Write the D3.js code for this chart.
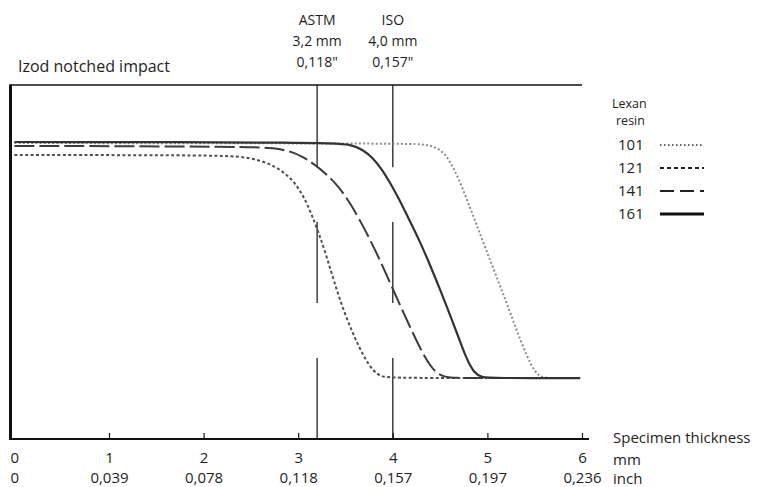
<!DOCTYPE html>
<html><head><meta charset="utf-8">
<script src="https://cdn.jsdelivr.net/npm/d3@7"></script>
<style>
body{margin:0;background:#fff;}
text{font-family:"Open Sans","Noto Sans",sans-serif;fill:#1e1e1e;}
</style></head>
<body><svg id="c" width="770" height="487"></svg>
<script>
// ---- data ----
const mmTicks = [0, 1, 2, 3, 4, 5, 6];
const inchTicks = ["0", "0,039", "0,078", "0,118", "0,157", "0,197", "0,236"];
const refPos = [3.2, 4.0];
const refName = ["ASTM", "ISO"];
const refMM = ["3,2 mm", "4,0 mm"];
const refInch = ["0,118\"", "0,157\""];
const refGaps = [[61.3, 76.8], [22.9, 38.4]];
const seriesNames = ["101", "121", "141", "161"];
const s101 = [[0,83.6],[4.20,83.5],[4.32,83.2],[4.42,82.8],[4.53,81.2],[4.60,78.6],[4.69,74.0],[4.79,67.2],[4.89,60.2],[4.99,53.2],[5.10,45.6],[5.21,38.0],[5.31,30.6],[5.42,23.2],[5.50,19.0],[5.57,17.4],[5.66,17.2],[5.98,17.2]];
const s121 = [[0,80.2],[2.20,80.2],[2.45,79.6],[2.67,78.2],[2.84,75.6],[2.96,72.6],[3.06,68.4],[3.14,63.6],[3.22,58.0],[3.30,51.6],[3.38,44.4],[3.47,37.0],[3.58,29.6],[3.69,23.4],[3.79,19.2],[3.88,17.6],[3.98,17.2],[5.98,17.2]];
const s141 = [[0,82.8],[2.45,82.6],[2.75,82.2],[2.93,81.2],[3.06,79.6],[3.18,77.4],[3.31,74.6],[3.43,71.2],[3.55,66.6],[3.66,61.4],[3.77,55.8],[3.88,49.6],[3.99,43.0],[4.10,36.4],[4.20,30.6],[4.30,25.0],[4.40,20.4],[4.49,18.0],[4.60,17.3],[4.75,17.2],[5.98,17.2]];
const s161 = [[0,83.9],[3.35,83.8],[3.55,83.2],[3.68,81.8],[3.79,79.4],[3.89,76.0],[3.97,72.4],[4.05,68.6],[4.15,63.2],[4.29,55.6],[4.39,49.4],[4.50,42.2],[4.60,35.4],[4.70,28.4],[4.78,22.6],[4.86,18.6],[4.94,17.4],[5.05,17.2],[5.98,17.2]];
const seriesData = [s101, s121, s141, s161];

// ---- styles ----
const styles = {
  "101": {stroke:"#8c8c8c", w:2, dash:"2,2.2", lstroke:"#333", lw:1.5, ldash:"1.5,2.5"},
  "121": {stroke:"#505050", w:2, dash:"3,2.4", lstroke:"#222", lw:2, ldash:"4,3"},
  "141": {stroke:"#3c3c3c", w:2, dash:"20,5", lstroke:"#222", lw:2, ldash:"14,6"},
  "161": {stroke:"#333", w:2.2, dash:null, lstroke:"#111", lw:3, ldash:null}
};

const svg = d3.select("#c");
const x = d3.scaleLinear().domain([0, 6]).range([14.4, 582]);
const y = d3.scaleLinear().domain([0, 100]).range([439, 85]);

// frame
svg.append("line").attr("x1", 10).attr("x2", 582).attr("y1", 85).attr("y2", 85)
  .attr("stroke", "#111").attr("stroke-width", 1.5);
svg.append("line").attr("x1", 10.5).attr("x2", 10.5).attr("y1", 84.5).attr("y2", 440)
  .attr("stroke", "#111").attr("stroke-width", 3);

// reference lines with gaps
refPos.forEach((p, i) => {
  const segs = [];
  let top = 100;
  refGaps.forEach(g => { segs.push([g[1], top]); top = g[0]; });
  segs.push([0, top]);
  segs.forEach(s => {
    svg.append("line").attr("x1", x(p)).attr("x2", x(p))
      .attr("y1", y(s[1])).attr("y2", y(s[0]))
      .attr("stroke", "#222").attr("stroke-width", 1.3);
  });
  const g = svg.append("g").attr("text-anchor", "middle").style("font-size", "14px");
  g.append("text").attr("x", x(p)).attr("y", 25).text(refName[i]);
  g.append("text").attr("x", x(p)).attr("y", 46).text(refMM[i]);
  g.append("text").attr("x", x(p)).attr("y", 67).text(refInch[i]);
});

// curves
const line = d3.line().x(d => x(d[0])).y(d => y(d[1])).curve(d3.curveBasis);
seriesNames.forEach((n, i) => {
  const st = styles[n];
  svg.append("path").datum(seriesData[i]).attr("d", line)
    .attr("fill", "none").attr("stroke", st.stroke).attr("stroke-width", st.w)
    .attr("stroke-dasharray", st.dash).attr("stroke-linejoin", "round");
});

// x axis
const axMM = d3.axisBottom(x).tickValues(mmTicks).tickSize(-6).tickPadding(13).tickFormat(d3.format("d"));
const gmm = svg.append("g").attr("transform", "translate(0,439)").call(axMM);
gmm.select(".domain").remove();
gmm.selectAll(".tick line").attr("stroke", "#111").attr("stroke-width", 1.2)
  .filter(d => d === 0).remove();
gmm.selectAll(".tick text").style("font-size", "15px").style("font-family", null).attr("fill", "#1e1e1e");

const axIn = d3.axisBottom(x).tickValues(mmTicks).tickSize(0).tickPadding(33).tickFormat((d, i) => inchTicks[i]);
const gin = svg.append("g").attr("transform", "translate(0,439)").call(axIn);
gin.select(".domain").remove();
gin.selectAll(".tick text").style("font-size", "15px").style("font-family", null).attr("fill", "#1e1e1e");

svg.append("line").attr("x1", 9).attr("x2", 589).attr("y1", 439).attr("y2", 439)
  .attr("stroke", "#111").attr("stroke-width", 2.2);

// axis titles
svg.append("text").attr("x", 613).attr("y", 443).style("font-size", "15px").text("Specimen thickness");
svg.append("text").attr("x", 613).attr("y", 465).style("font-size", "15px").text("mm");
svg.append("text").attr("x", 613).attr("y", 484).style("font-size", "15px").text("inch");
svg.append("text").attr("x", 18).attr("y", 72).style("font-size", "16px").text("Izod notched impact");

// legend
const lg = svg.append("g");
lg.append("text").attr("x", 612).attr("y", 108).style("font-size", "12.5px").text("Lexan");
lg.append("text").attr("x", 616).attr("y", 125).style("font-size", "12.5px").text("resin");
seriesNames.forEach((n, i) => {
  const st = styles[n];
  const yy = 145 + i * 23;
  lg.append("text").attr("x", 618).attr("y", yy + 5).style("font-size", "15px").text(n);
  lg.append("line").attr("x1", 660).attr("x2", 704).attr("y1", yy).attr("y2", yy)
    .attr("stroke", st.lstroke).attr("stroke-width", st.lw).attr("stroke-dasharray", st.ldash);
});
</script></body></html>
